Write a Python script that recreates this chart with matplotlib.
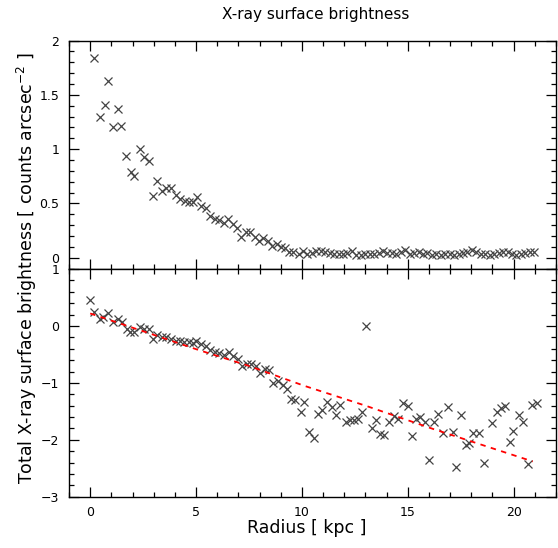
import numpy as np
import matplotlib
matplotlib.use('Agg')
import matplotlib.pyplot as plt
from matplotlib.ticker import MultipleLocator

# Top panel: surface brightness [counts arcsec^-2] vs radius [kpc]
r_top = [0.20, 0.44, 0.68, 0.85, 1.07, 1.29, 1.47, 1.70, 1.91, 2.09,
         2.33, 2.55, 2.77, 2.96, 3.17, 3.39, 3.59, 3.81, 4.03,
         4.26, 4.46, 4.66, 4.84, 5.04, 5.25, 5.47, 5.67, 5.89, 6.10,
         6.31, 6.51, 6.73, 6.95, 7.13, 7.35, 7.55, 7.77, 7.98, 8.18,
         8.39, 8.60, 8.80, 9.00, 9.20, 9.40, 9.60, 9.84,
         10.05, 10.26, 10.47, 10.68, 10.89, 11.10, 11.31, 11.52, 11.73, 11.94,
         12.15, 12.36, 12.57, 12.78, 12.99, 13.20, 13.41, 13.62, 13.83, 14.04,
         14.25, 14.46, 14.67, 14.88, 15.09, 15.30, 15.51, 15.72, 15.93, 16.14,
         16.35, 16.56, 16.77, 16.98, 17.19, 17.40, 17.61, 17.82, 18.03, 18.24,
         18.45, 18.66, 18.87, 19.08, 19.29, 19.50, 19.71, 19.92, 20.13, 20.34,
         20.55, 20.76, 20.97]
sb_top = [1.84, 1.30, 1.41, 1.63, 1.20, 1.37, 1.21, 0.935, 0.79, 0.754,
          1.00, 0.926, 0.89, 0.57, 0.71, 0.613, 0.644, 0.644, 0.58,
          0.537, 0.524, 0.51, 0.51, 0.555, 0.48, 0.46, 0.383, 0.353, 0.347,
          0.316, 0.353, 0.31, 0.273, 0.193, 0.233, 0.233, 0.193, 0.153, 0.177,
          0.153, 0.107, 0.13, 0.10, 0.085, 0.055, 0.055, 0.035,
          0.06, 0.03, 0.04, 0.06, 0.06, 0.05, 0.04, 0.03, 0.03, 0.03,
          0.04, 0.06, 0.02, 0.02, 0.03, 0.03, 0.03, 0.04, 0.06, 0.04,
          0.04, 0.03, 0.05, 0.07, 0.03, 0.04, 0.05, 0.03, 0.04, 0.02,
          0.03, 0.02, 0.03, 0.03, 0.02, 0.03, 0.04, 0.05, 0.07, 0.05,
          0.03, 0.03, 0.02, 0.03, 0.04, 0.05, 0.05, 0.03, 0.02, 0.03,
          0.04, 0.05, 0.05]

# Bottom panel: total surface brightness (log)
r_tot = [0.01, 0.20, 0.47, 0.61, 0.85, 1.07, 1.30, 1.48, 1.72, 1.90,
         2.09, 2.33, 2.55, 2.76, 2.98, 3.17, 3.40, 3.59, 3.81, 4.03,
         4.24, 4.44, 4.65, 4.85, 5.02, 5.24, 5.45, 5.66, 5.88, 6.09,
         6.32, 6.54, 6.76, 6.97, 7.19, 7.40, 7.60, 7.81, 8.02, 8.24,
         8.46, 8.65, 8.87, 9.09, 9.28, 9.49, 9.67,
         9.98, 10.09, 10.34, 10.56, 10.76, 10.97, 11.19, 11.42, 11.60, 11.82,
         12.06, 12.26, 12.46, 12.67, 12.84, 13.05, 13.29, 13.50, 13.68, 13.90,
         14.12, 14.34, 14.54, 14.78, 14.99, 15.18, 15.41, 15.60, 15.81, 16.01,
         16.26, 16.42, 16.64, 16.88, 17.12, 17.26, 17.51, 17.73, 17.89, 18.09,
         18.37, 18.58, 18.99, 19.20, 19.40, 19.59, 19.82, 19.98, 20.25, 20.45,
         20.69, 20.88, 21.09]
sb_tot = [0.45, 0.25, 0.12, 0.16, 0.22, 0.075, 0.12, 0.07, -0.05, -0.10,
          -0.10, -0.01, -0.05, -0.06, -0.23, -0.16, -0.20, -0.20, -0.23, -0.26,
          -0.27, -0.29, -0.29, -0.30, -0.26, -0.32, -0.36, -0.43, -0.46, -0.48,
          -0.51, -0.46, -0.52, -0.58, -0.70, -0.67, -0.67, -0.70, -0.83, -0.76,
          -0.77, -1.00, -0.96, -1.04, -1.11, -1.29, -1.30,
          -1.51, -1.34, -1.86, -1.97, -1.54, -1.47, -1.34, -1.42, -1.56, -1.38,
          -1.69, -1.65, -1.65, -1.64, -1.51, 0.00, -1.80, -1.65, -1.89, -1.91,
          -1.69, -1.58, -1.63, -1.36, -1.40, -1.94, -1.64, -1.60, -1.69, -2.36,
          -1.69, -1.54, -1.88, -1.42, -1.86, -2.47, -1.56, -2.09, -2.06, -1.88,
          -1.88, -2.40, -1.71, -1.52, -1.45, -1.40, -2.03, -1.84, -1.57, -1.69,
          -2.43, -1.38, -1.36]

# model curve (red dashed)
r_fit = [0.0, 2.4, 5.1, 7.4, 10.1, 13.0, 16.2, 20.9]
sb_fit = [0.22, -0.08, -0.42, -0.69, -1.05, -1.40, -1.81, -2.38]

fig = plt.figure(figsize=(5.58, 5.48), dpi=100)
ax1 = fig.add_axes([0.1237, 0.509, 0.8727, 0.417])
ax2 = fig.add_axes([0.1237, 0.0936, 0.8727, 0.4154])

mk = dict(ls='none', marker='x', ms=5.5, mew=0.9, color='#444444')
ax1.plot(r_top, sb_top, **mk)
ax2.plot(r_tot, sb_tot, **mk)
ax2.plot(r_fit, sb_fit, color='red', lw=1.3, ls=(0, (3, 3)))

for ax in (ax1, ax2):
    ax.set_xlim(-1, 22)
    ax.xaxis.set_major_locator(MultipleLocator(5))
    ax.xaxis.set_minor_locator(MultipleLocator(1))
    ax.tick_params(which='both', direction='in', top=True, right=True,
                   labelsize=9, pad=7, width=0.9)
    ax.tick_params(which='major', length=7)
    ax.tick_params(which='minor', length=3.5)
    for s in ax.spines.values():
        s.set_linewidth(1.0)

ax1.set_ylim(-0.105, 2)
ax1.yaxis.set_minor_locator(MultipleLocator(0.1))
ax1.set_yticks([0, 0.5, 1, 1.5, 2])
ax1.set_yticklabels(['0', '0.5', '1', '1.5', '2'])
ax1.tick_params(labelbottom=False)

ax2.set_ylim(-3, 1)
ax2.yaxis.set_major_locator(MultipleLocator(1))
ax2.yaxis.set_minor_locator(MultipleLocator(0.2))

fig.text(0.565, 0.973, 'X-ray surface brightness', ha='center', va='center', fontsize=11)
fig.text(0.55, 0.0365, 'Radius [ kpc ]', ha='center', va='center', fontsize=12.5)
fig.text(0.048, 0.51, r'Total X-ray surface brightness [ counts arcsec$^{-2}$ ]',
         ha='center', va='center', rotation=90, fontsize=12.5)

fig.savefig('out.png', dpi=100)
